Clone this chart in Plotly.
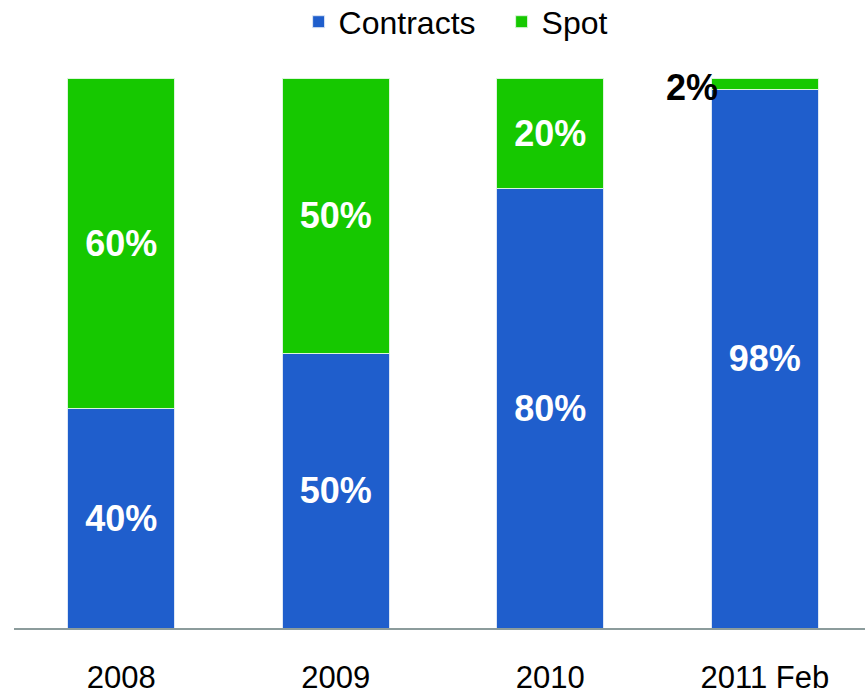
import plotly.graph_objects as go

# Data
years = ["2008", "2009", "2010", "2011 Feb"]
contracts = [40, 50, 80, 98]
spot = [60, 50, 20, 2]

blue = "#1f5ecc"
green = "#16c800"
font_family = "Liberation Sans, Arial, sans-serif"

# Small segments get their label outside the bar
spot_text = [f"{v}%" if v >= 10 else "" for v in spot]

fig = go.Figure()
fig.add_trace(go.Bar(
    x=years, y=contracts, name="Contracts",
    marker=dict(color=blue, line=dict(color="#dce6f5", width=1)),
    text=[f"{v}%" for v in contracts], textposition="inside",
    insidetextanchor="middle",
    textfont=dict(color="white", size=36, family=font_family, weight="bold"),
))
fig.add_trace(go.Bar(
    x=years, y=spot, name="Spot",
    marker=dict(color=green, line=dict(color="#dcf5dc", width=1)),
    text=spot_text, textposition="inside", insidetextanchor="middle",
    textfont=dict(color="white", size=36, family=font_family, weight="bold"),
))

# label for the tiny spot segment, placed left of the bar
for i, v in enumerate(spot):
    if v < 10:
        fig.add_annotation(
            x=years[i], y=contracts[i] + v / 2, text=f"{v}%",
            showarrow=False, xanchor="right", xshift=-45, yshift=-4,
            font=dict(color="black", size=36, family=font_family, weight="bold"),
        )

fig.update_layout(
    width=865, height=696,
    barmode="stack", bargap=0.5,
    plot_bgcolor="white", paper_bgcolor="white",
    margin=dict(l=14, r=0, t=78, b=68, autoexpand=False),
    font=dict(family=font_family, size=31, color="black"),
    legend=dict(orientation="h", x=0.573, xanchor="center", y=1.102, yanchor="middle",
                font=dict(size=32), itemwidth=30,
                entrywidth=158, traceorder="normal"),
    xaxis=dict(range=[-0.5, 3.467], showline=True, linecolor="#8c9c9c", linewidth=2,
               ticks="outside", ticklen=21, tickcolor="rgba(0,0,0,0)",
               tickfont=dict(size=31), automargin=False),
    yaxis=dict(range=[0, 100], visible=False),
    uniformtext=dict(mode="show", minsize=10),
)

# drop the default 8px body margin so the figure fills the window
fig.write_html("out.html", config={"displayModeBar": False},
               post_script="document.body.style.margin = '0';")
